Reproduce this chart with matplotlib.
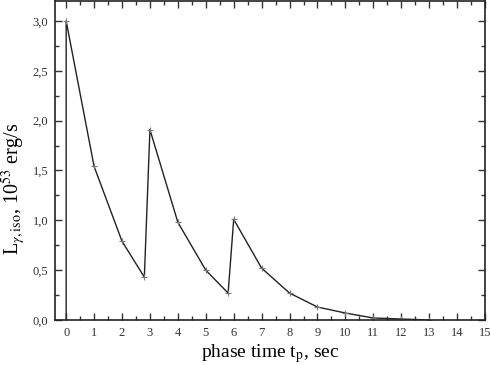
import matplotlib
matplotlib.use("Agg")
import matplotlib.pyplot as plt
from matplotlib.ticker import MultipleLocator, FuncFormatter

t = [0, 0, 1, 2, 2.8, 3, 4, 5, 5.8, 6, 7, 8, 9, 10, 11, 12, 13]
L = [0.0, 3.0, 1.54, 0.79, 0.43, 1.91, 0.98, 0.50, 0.27, 1.01, 0.52, 0.27, 0.13, 0.07, 0.02, 0.01, 0.0]

plt.rcParams['font.family'] = ['Liberation Serif', 'DejaVu Serif']
plt.rcParams['mathtext.fontset'] = 'stix'

fig = plt.figure(figsize=(4.91, 3.65), dpi=100)
ax = fig.add_axes([55/491, 45/365, 430/491, 319/365])

ax.plot(t, L, color='#222222', lw=1.0, marker='+', ms=5, mew=0.8,
        mec='#777777', markevery=slice(1, None))

ax.set_xlim(-0.4, 15)
ax.set_ylim(0, 3.2)
ax.xaxis.set_major_locator(MultipleLocator(1))
ax.xaxis.set_minor_locator(MultipleLocator(0.5))
ax.yaxis.set_major_locator(MultipleLocator(0.5))
ax.yaxis.set_minor_locator(MultipleLocator(0.25))
ax.yaxis.set_major_formatter(FuncFormatter(lambda v, p: f"{v:.1f}".replace('.', ',')))

ax.tick_params(which='both', direction='in', top=True, right=True,
               labelsize=9, colors='#333333', width=1.0)
ax.tick_params(which='major', length=5, pad=5)
ax.tick_params(which='minor', length=3)
for s in ax.spines.values():
    s.set_linewidth(1.2)
    s.set_color('#222222')

ax.set_xlabel(r"phase time t$_{\mathrm{p}}$, sec", fontsize=14, labelpad=2)
ax.set_ylabel(r"L$_{\gamma,\mathrm{iso}}$, 10$^{53}$ erg/s", fontsize=14.5)
ax.yaxis.set_label_coords(-0.062, 0.41)

fig.savefig("out.png", dpi=100)
